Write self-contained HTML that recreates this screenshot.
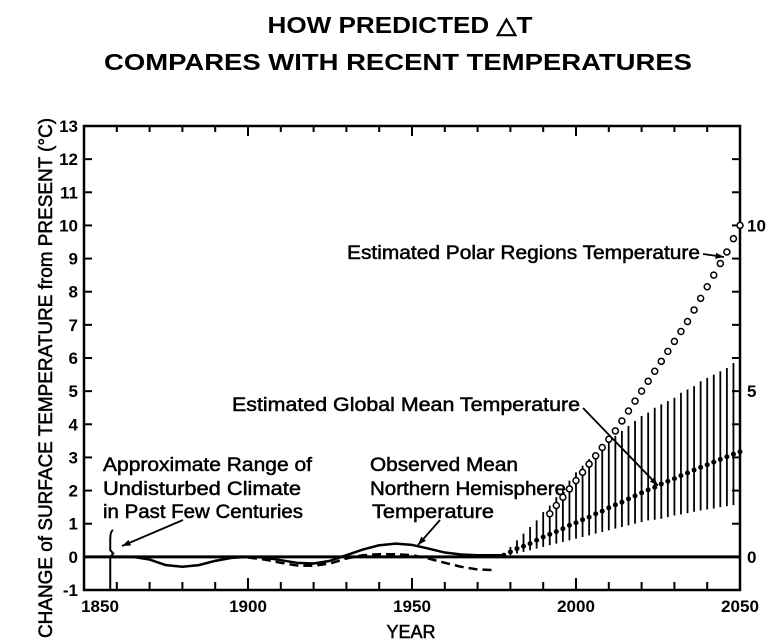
<!DOCTYPE html>
<html><head><meta charset="utf-8"><style>
body{margin:0;background:#fff;}
svg{display:block;font-family:"Liberation Sans",sans-serif;}
.ann text{stroke:#000;stroke-width:0.5;}
</style></head><body>
<svg id="chart" width="784" height="643" viewBox="0 0 784 643" xmlns="http://www.w3.org/2000/svg">
<rect width="784" height="643" fill="#fff"/>
<text x="400" y="33" text-anchor="middle" font-size="23" font-weight="bold" textLength="265" lengthAdjust="spacingAndGlyphs">HOW PREDICTED △T</text>
<text x="398" y="70" text-anchor="middle" font-size="23" font-weight="bold" textLength="588" lengthAdjust="spacingAndGlyphs">COMPARES WITH RECENT TEMPERATURES</text>
<text transform="translate(52,378) rotate(-90)" text-anchor="middle" font-size="19" textLength="520" lengthAdjust="spacingAndGlyphs" stroke="#000" stroke-width="0.5">CHANGE of SURFACE TEMPERATURE from PRESENT (°C)</text>
<text x="411" y="638" text-anchor="middle" font-size="18" stroke="#000" stroke-width="0.5">YEAR</text>
<g id="axes"></g>
<g id="marks"></g>
<g class="ann" font-size="19">
<text x="347" y="259" textLength="353" lengthAdjust="spacingAndGlyphs">Estimated Polar Regions Temperature</text>
<text x="232" y="411" textLength="348" lengthAdjust="spacingAndGlyphs">Estimated Global Mean Temperature</text>
<text x="103" y="471" textLength="209" lengthAdjust="spacingAndGlyphs">Approximate Range of</text>
<text x="103" y="495" textLength="198" lengthAdjust="spacingAndGlyphs">Undisturbed Climate</text>
<text x="103" y="518" textLength="200" lengthAdjust="spacingAndGlyphs">in Past Few Centuries</text>
<text x="370" y="471" textLength="148" lengthAdjust="spacingAndGlyphs">Observed Mean</text>
<text x="370" y="495" textLength="196" lengthAdjust="spacingAndGlyphs">Northern Hemisphere</text>
<text x="372" y="518" textLength="122" lengthAdjust="spacingAndGlyphs">Temperature</text>
</g>
</svg>
<script>
const xTicks=[1850,1900,1950,2000,2050];
const yTicks=[-1,0,1,2,3,4,5,6,7,8,9,10,11,12,13];
const rightLabels=[0,5,10];
const meanYears=[1978,1980,1982,1984,1986,1988,1990,1992,1994,1996,1998,2000,2002,2004,2006,2008,2010,2012,2014,2016,2018,2020,2022,2024,2026,2028,2030,2032,2034,2036,2038,2040,2042,2044,2046,2048,2050];
const meanVals=[0.05,0.15,0.25,0.32,0.4,0.5,0.6,0.68,0.76,0.85,0.95,1.03,1.12,1.2,1.3,1.38,1.48,1.57,1.65,1.75,1.84,1.93,2.02,2.1,2.2,2.28,2.36,2.45,2.53,2.62,2.7,2.78,2.86,2.94,3.02,3.1,3.17];
const upperVals=[0.1,0.3,0.5,0.7,0.9,1.1,1.35,1.55,1.8,2.05,2.3,2.55,2.75,2.95,3.1,3.3,3.45,3.65,3.8,3.95,4.1,4.25,4.35,4.5,4.6,4.7,4.8,4.95,5.05,5.15,5.3,5.4,5.5,5.6,5.7,5.85,5.95];
const lowerVals=[0,0.05,0.1,0.15,0.2,0.25,0.3,0.35,0.4,0.45,0.5,0.55,0.6,0.65,0.7,0.75,0.8,0.85,0.9,0.95,1.0,1.05,1.1,1.12,1.15,1.2,1.25,1.28,1.32,1.36,1.4,1.43,1.46,1.5,1.53,1.56,1.6];
const polarYears=[1992,1994,1996,1998,2000,2002,2004,2006,2008,2010,2012,2014,2016,2018,2020,2022,2024,2026,2028,2030,2032,2034,2036,2038,2040,2042,2044,2046,2048,2050];
const polarVals=[1.3,1.55,1.8,2.05,2.3,2.55,2.8,3.05,3.3,3.55,3.8,4.1,4.4,4.7,5.0,5.3,5.6,5.9,6.2,6.5,6.8,7.1,7.45,7.8,8.15,8.5,8.85,9.2,9.6,10.0];
const obsYears=[1858,1865,1870,1875,1880,1885,1890,1895,1900,1905,1910,1915,1920,1925,1930,1935,1940,1945,1950,1955,1960,1965,1970,1975,1978];
const obsVals=[0,0,-0.08,-0.25,-0.3,-0.25,-0.12,-0.03,0,-0.02,-0.1,-0.18,-0.2,-0.12,0.05,0.22,0.35,0.4,0.36,0.25,0.13,0.07,0.05,0.05,0.05];
const dashYears=[1900,1905,1910,1915,1920,1925,1930,1935,1940,1945,1950,1955,1960,1965,1970,1975];
const dashVals=[-0.02,-0.08,-0.18,-0.26,-0.27,-0.2,-0.05,0.05,0.08,0.08,0.05,-0.05,-0.18,-0.3,-0.38,-0.4];

const X0=84,X1=740,Y0=590,Y1=126;
const xs=y=>X0+(y-1850)*(X1-X0)/200;
const ys=v=>Y0-(v+1)*(Y0-Y1)/14;
const NS='http://www.w3.org/2000/svg';
function mk(tag,attrs,parent){const e=document.createElementNS(NS,tag);for(const k in attrs)e.setAttribute(k,attrs[k]);parent.appendChild(e);return e;}
const ax=document.getElementById('axes'), mg=document.getElementById('marks');
let e;
e=mk('rect',{x:X0,y:Y1,width:X1-X0,height:Y0-Y1,fill:'none',stroke:'#000','stroke-width':2.5},ax);


for(let yr=1850;yr<=2050;yr+=10){
  const L=(yr%50===0)?12:8;
  e=mk('line',{x1:xs(yr),x2:xs(yr),y1:Y0,y2:Y0-L,stroke:'#000','stroke-width':2},ax);
  
  
  e=mk('line',{x1:xs(yr),x2:xs(yr),y1:Y1,y2:Y1+L-2,stroke:'#000','stroke-width':2},ax);
  
  
}
xTicks.forEach(t=>{
  e=mk('text',{x:xs(t)+(t===1850?16:0),y:612,'text-anchor':'middle','font-size':17,'font-weight':'bold'},ax);
  e.textContent=t;
  
  
});
yTicks.forEach(t=>{
  e=mk('line',{x1:X0,x2:X0+8,y1:ys(t),y2:ys(t),stroke:'#000','stroke-width':2},ax);
  
  
  e=mk('line',{x1:X1,x2:X1-8,y1:ys(t),y2:ys(t),stroke:'#000','stroke-width':2},ax);
  
  
  e=mk('text',{x:78,y:ys(t)+6,'text-anchor':'end','font-size':17,'font-weight':'bold'},ax);
  e.textContent=t;
  
  
});
rightLabels.forEach(t=>{
  e=mk('text',{x:747,y:ys(t)+6,'font-size':17,'font-weight':'bold'},ax);
  e.textContent=t;
  
  
});
e=mk('line',{x1:X0,x2:X1,y1:ys(0),y2:ys(0),stroke:'#000','stroke-width':3},mg);


e=mk('path',{d:`M${xs(1858)+3},${ys(0.8)} Q${xs(1858)},${ys(0.8)} ${xs(1858)},${ys(0.5)} L${xs(1858)},${ys(0.2)} L${xs(1858)+3},${ys(0.1)} L${xs(1858)},${ys(0)} L${xs(1858)},${ys(-1)}`,fill:'none',stroke:'#000','stroke-width':2},mg);


e=mk('polyline',{points:obsYears.map((y,i)=>xs(y)+','+ys(obsVals[i])).join(' '),fill:'none',stroke:'#000','stroke-width':2.5,'stroke-linejoin':'round'},mg);


e=mk('polyline',{points:dashYears.map((y,i)=>xs(y)+','+ys(dashVals[i])).join(' '),fill:'none',stroke:'#000','stroke-width':2.5,'stroke-dasharray':'9,5'},mg);


meanYears.forEach((y,i)=>{
  e=mk('line',{x1:xs(y),x2:xs(y),y1:ys(upperVals[i]),y2:ys(lowerVals[i]),stroke:'#000','stroke-width':1.8},mg);
  
  
  e=mk('circle',{cx:xs(y),cy:ys(meanVals[i]),r:2.5,fill:'#000'},mg);
  
  
});
polarYears.forEach((y,i)=>{
  e=mk('circle',{cx:xs(y),cy:ys(polarVals[i]),r:3,fill:'#fff',stroke:'#000','stroke-width':1.5},mg);
  
  
});
[[703,254,724,257],[583,408,xs(2025),ys(2.15)],[440,520,418,545],[183,520,122,546]].forEach(a=>{
  e=mk('line',{x1:a[0],y1:a[1],x2:a[2],y2:a[3],stroke:'#000','stroke-width':1.8},mg);
  
  
  const ang=Math.atan2(a[3]-a[1],a[2]-a[0]),L=9;
  const p=[[a[2],a[3]],[a[2]-L*Math.cos(ang-0.35),a[3]-L*Math.sin(ang-0.35)],[a[2]-L*Math.cos(ang+0.35),a[3]-L*Math.sin(ang+0.35)]];
  e=mk('polygon',{points:p.map(q=>q.join(',')).join(' '),fill:'#000'},mg);
  
  
});
</script>
</body></html>
